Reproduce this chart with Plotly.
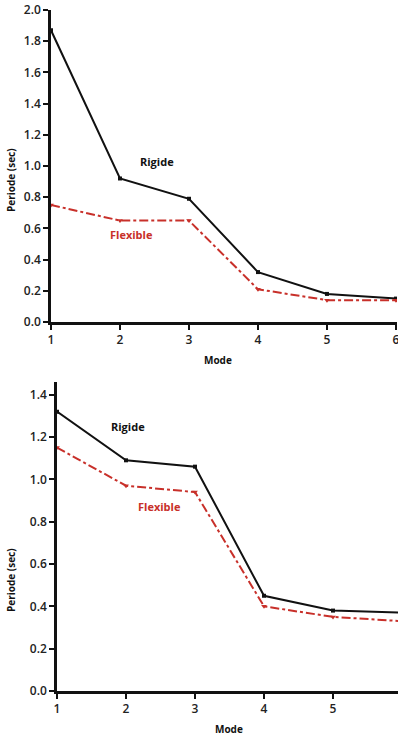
import plotly.graph_objects as go

modes = [1, 2, 3, 4, 5, 6]
top_rigide = [1.87, 0.92, 0.79, 0.32, 0.18, 0.15]
top_flexible = [0.75, 0.65, 0.65, 0.21, 0.14, 0.14]
bot_rigide = [1.32, 1.09, 1.06, 0.45, 0.38, 0.37]
bot_flexible = [1.15, 0.97, 0.94, 0.40, 0.35, 0.33]
top_yticks = [0.0, 0.2, 0.4, 0.6, 0.8, 1.0, 1.2, 1.4, 1.6, 1.8, 2.0]
bot_yticks = [0.0, 0.2, 0.4, 0.6, 0.8, 1.0, 1.2, 1.4]

W, H = 398, 736
BLACK = "#111111"
RED = "#c8302a"
FONT = "Open Sans"

fig = go.Figure()

def add_pair(rig, flex, xa, ya):
    fig.add_trace(go.Scatter(x=modes, y=rig, mode="lines+markers", xaxis=xa, yaxis=ya,
                             line=dict(color=BLACK, width=2),
                             marker=dict(symbol="square", size=4, color=BLACK),
                             showlegend=False, cliponaxis=True))
    fig.add_trace(go.Scatter(x=modes, y=flex, mode="lines+markers", xaxis=xa, yaxis=ya,
                             line=dict(color=RED, width=2, dash="dashdot"),
                             marker=dict(symbol="triangle-down", size=5, color=RED),
                             showlegend=False, cliponaxis=True))

add_pair(top_rigide, top_flexible, "x", "y")
add_pair(bot_rigide, bot_flexible, "x2", "y2")

def px_x(p):
    return p / W

def px_y(p):
    return 1 - p / H

tickfont = dict(family=FONT, size=12, color="#222222", weight=600)
axis_common = dict(showline=True, linecolor=BLACK, linewidth=2.5, ticks="outside",
                   ticklen=5, tickwidth=2, tickcolor=BLACK, showgrid=False,
                   zeroline=False, tickfont=tickfont, ticklabeloverflow="allow",
                   automargin=False)

fig.update_layout(
    width=W, height=H, margin=dict(l=0, r=0, t=0, b=0, autoexpand=False),
    paper_bgcolor="white", plot_bgcolor="white",
    xaxis=dict(domain=[px_x(51), px_x(397)], range=[1, 6.015], anchor="y",
               tickvals=modes, ticktext=[str(m) for m in modes], **axis_common),
    yaxis=dict(domain=[px_y(322), px_y(10)], range=[0, 2.0], anchor="x",
               tickvals=top_yticks, ticktext=[f"{v:.1f}" for v in top_yticks], **axis_common),
    xaxis2=dict(domain=[px_x(57), 1.0], range=[1, 1 + (W - 57) / 69.0], anchor="y2",
                tickvals=modes, ticktext=[str(m) for m in modes], **axis_common),
    yaxis2=dict(domain=[px_y(691), px_y(382)], range=[0, 1.46], anchor="x2",
                tickvals=bot_yticks, ticktext=[f"{v:.1f}" for v in bot_yticks], **axis_common),
)

lab = dict(family=FONT, size=11, color=BLACK, weight=700)
labr = dict(family=FONT, size=11, color=RED, weight=700)
title_font = dict(family=FONT, size=10, color=BLACK, weight=700)
base = dict(showarrow=False, xanchor="center", yanchor="middle")
ann = [
    dict(text="Rigide", x=2.54, y=1.03, xref="x", yref="y", font=lab, **base),
    dict(text="Flexible", x=2.16, y=0.56, xref="x", yref="y", font=labr, **base),
    dict(text="Rigide", x=2.03, y=1.25, xref="x2", yref="y2", font=lab, **base),
    dict(text="Flexible", x=2.49, y=0.87, xref="x2", yref="y2", font=labr, **base),
    dict(text="Periode (sec)", x=px_x(11), y=px_y(180), xref="paper", yref="paper",
         textangle=-90, font=title_font, **base),
    dict(text="Periode (sec)", x=px_x(11), y=px_y(580), xref="paper", yref="paper",
         textangle=-90, font=title_font, **base),
    dict(text="Mode", x=px_x(218), y=px_y(360), xref="paper", yref="paper",
         font=title_font, **base),
    dict(text="Mode", x=px_x(229), y=px_y(729), xref="paper", yref="paper",
         font=title_font, **base),
]
fig.update_layout(annotations=ann)

fig.write_html("out.html")
